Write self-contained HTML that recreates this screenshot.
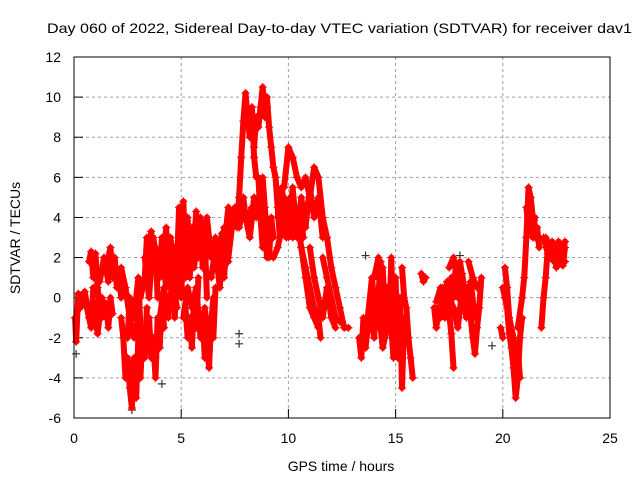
<!DOCTYPE html>
<html><head><meta charset="utf-8"><style>
body{margin:0;background:#fff}
svg{display:block;font-family:"Liberation Sans",sans-serif}
</style></head><body>
<svg id="chart" width="640" height="480" viewBox="0 0 640 480" xmlns="http://www.w3.org/2000/svg">
<rect width="640" height="480" fill="#fff"/>
<text x="47" y="33" font-size="14" textLength="585" lengthAdjust="spacingAndGlyphs">Day 060 of 2022, Sidereal Day-to-day VTEC variation (SDTVAR) for receiver dav1</text>
<text x="341" y="471" font-size="14" text-anchor="middle">GPS time / hours</text>
<text x="20" y="238" font-size="14" text-anchor="middle" transform="rotate(-90 20 238)">SDTVAR / TECUs</text>
<g id="grid"></g><g id="ticks"></g><g id="marks"></g>
<rect x="74" y="57" width="536" height="361" fill="none" stroke="#000" stroke-width="1"/>
</svg>
<script>
const xTicks=[0,5,10,15,20,25];
const yTicks=[-6,-4,-2,0,2,4,6,8,10,12];
const tracks=[
[[0.05,-1],[0.1,-2.2],[0.2,0.2],[0.4,0],[0.6,-0.5],[0.8,-1.5],[0.9,0.5]],
[[0.7,1.8],[0.8,2.3],[0.9,1],[1.0,2.2],[1.1,0.5],[1.2,-0.5],[1.3,-1],[1.5,-0.3],[1.6,-1.5],[1.7,0],[1.8,-0.8]],
[[1.5,1.5],[1.7,2.5],[1.8,1],[1.9,2],[2.0,0.5],[2.1,1.2],[2.2,0]],
[[2.2,-1],[2.3,-2],[2.4,-4],[2.5,-3],[2.6,-4.5],[2.7,-5.5],[2.8,-3],[2.9,-5],[3.0,-2],[3.1,-4],[3.2,-1.5],[3.3,-3],[3.4,-0.5]],
[[2.2,1.5],[2.4,0.5],[2.6,-1],[2.8,-2],[3.0,-1],[3.2,-2.5],[3.4,-2]],
[[3.1,0],[3.3,1],[3.4,3],[3.5,2],[3.6,3.3],[3.7,1.5],[3.8,2.5],[3.9,0]],
[[3.5,-1],[3.6,-3],[3.7,-2],[3.8,-4],[3.9,-1],[4.0,-2.5],[4.1,0],[4.2,-1.5]],
[[4.0,1],[4.1,3],[4.2,2],[4.3,3.5],[4.4,1],[4.5,2],[4.6,0],[4.7,2.5],[4.8,0.5]],
[[4.7,-1],[4.8,1.5],[4.9,4.5],[5.0,3],[5.1,4.8],[5.2,2],[5.3,4],[5.4,1],[5.5,3.5]],
[[5.2,-0.5],[5.3,-2],[5.4,-1],[5.5,-2.5],[5.6,0],[5.7,-1.5],[5.8,1]],
[[5.6,2.5],[5.7,4.3],[5.8,2],[5.9,4],[6.0,1.5],[6.1,3],[6.2,0]],
[[6.0,-1],[6.1,-3],[6.2,-2],[6.3,-3.5],[6.4,-1],[6.5,-2],[6.6,0.5]],
[[6.5,1.5],[6.6,3],[6.8,2],[6.9,3.2],[7.0,1],[7.1,2.5],[7.2,1.8]],
[[7.0,2.5],[7.2,4.5],[7.4,4],[7.6,3.5],[7.7,5],[7.8,7],[7.9,8.8],[8.0,10.2],[8.1,9],[8.2,8],[8.3,9.5],[8.4,7],[8.5,6]],
[[7.7,4.5],[7.9,5],[8.0,4],[8.2,3],[8.4,5],[8.5,4]],
[[8.4,7.5],[8.5,9],[8.6,8.5],[8.7,9.5],[8.8,10.5],[8.9,9],[9.0,10],[9.1,8.5],[9.2,7.5],[9.3,6.5],[9.4,6],[9.5,4.5],[9.6,3]],
[[8.8,6],[8.9,4.5],[9.0,3],[9.1,2],[9.2,4],[9.3,3]],
[[9.3,2],[9.5,2.5],[9.7,3.5],[9.8,5],[10.0,4.5],[10.2,3],[10.4,4],[10.6,2.5],[10.8,1.5],[11.0,0.5],[11.2,-0.5],[11.4,-1],[11.5,-2]],
[[9.8,5.5],[10.0,7.5],[10.2,7],[10.4,6],[10.6,5.5],[10.8,6],[11.0,5],[11.2,6.5],[11.4,6],[11.6,4],[11.8,3],[12.0,1.5],[12.2,0.5],[12.4,-0.5],[12.6,-1.5],[12.8,-1.5]],
[[10.6,2.5],[10.8,1],[11.0,-0.5],[11.2,-1],[11.4,-1.5]],
[[11.6,2],[11.8,1],[12.0,0],[12.2,-1],[12.4,-1.2]],
[[13.3,-2],[13.4,-3],[13.5,-1],[13.6,-2.5],[13.8,-0.5],[14.0,-2],[14.1,0],[14.2,-1]],
[[14.0,1],[14.2,2],[14.3,0],[14.4,1.5],[14.5,-1],[14.6,0.5],[14.7,-1.5],[14.8,2],[14.9,-2],[15.0,1],[15.1,-3],[15.2,0],[15.3,-4.5],[15.4,-1],[15.5,-2]],
[[15.3,1.5],[15.4,0],[15.5,-0.5],[15.6,-2],[15.7,-3],[15.8,-4]],
[[16.2,1.2],[16.3,0.8],[16.4,1]],
[[16.8,-0.5],[16.9,-1.5],[17.0,-0.5],[17.1,-1],[17.2,0.5],[17.3,-0.5],[17.4,0.8],[17.5,-0.8],[17.6,-1.8],[17.7,-3.5]],
[[17.6,1],[17.7,0],[17.8,1.5],[17.9,0],[18.0,1.8],[18.2,0.5],[18.4,-0.5],[18.5,-1],[18.6,-2],[18.7,-2.8],[18.8,-1.5],[18.9,-0.5],[19.0,1]],
[[18.4,1.8],[18.6,1],[18.8,0.5]],
[[20.0,0.5],[20.1,0],[20.2,-0.5],[20.3,-1.8],[20.4,-2.5],[20.5,-3.5],[20.6,-5],[20.7,-4],[20.8,-2],[20.9,-1]],
[[20.7,-1.5],[20.9,0],[21.0,1],[21.1,3],[21.2,5.5],[21.3,5],[21.4,4],[21.5,3],[21.6,3.5],[21.7,2.5]],
[[21.8,-1.5],[21.9,0],[22.0,1],[22.1,2.5],[22.2,2],[22.4,1.8],[22.6,2.5],[22.8,2.2],[22.9,2.8]],
[[21.9,3],[22.1,2.2],[22.3,2.8],[22.5,1.5],[22.7,2],[22.9,1.8]],
[[0.3,-0.5],[0.5,0.3],[0.7,-1],[0.9,-0.2],[1.1,-1.8],[1.3,0],[1.5,-1]],
[[1.0,1.5],[1.2,0.8],[1.4,2],[1.6,0.8]],
[[2.5,-2],[2.6,0],[2.8,-1],[3.0,1],[3.1,-1.5]],
[[3.3,2],[3.5,0],[3.7,3],[3.9,1.5],[4.1,2.5],[4.3,0.5],[4.5,3],[4.7,1]],
[[3.8,-3],[4.0,-1],[4.2,0.5],[4.4,-1],[4.6,1],[4.8,-0.5]],
[[4.9,2],[5.0,0],[5.1,3],[5.2,1],[5.4,3],[5.6,1.5],[5.8,3.5],[6.0,2.5],[6.2,4],[6.4,2]],
[[5.1,-1],[5.3,0.5],[5.5,-0.5],[5.7,0.5],[5.9,-2],[6.1,-0.5],[6.3,-2.5],[6.5,0]],
[[6.4,1],[6.6,2.5],[6.8,0.5],[7.0,3.5],[7.2,2],[7.4,3.8]],
[[7.5,4.5],[7.7,3.5],[7.9,4.5],[8.1,4],[8.3,4.5]],
[[8.6,6],[8.7,4],[8.8,2.5],[8.9,4],[9.0,2]],
[[9.5,4],[9.7,5.5],[9.9,3],[10.1,5],[10.3,3.5],[10.5,4.5],[10.7,3]],
[[10.0,3],[10.2,5.5],[10.4,3],[10.6,5],[10.8,3.5],[11.0,5.5],[11.2,4],[11.4,5],[11.6,3]],
[[11.0,2.5],[11.2,1],[11.4,0],[11.6,-1],[11.8,0.5],[12.0,-1],[12.2,-1.5]],
[[13.7,-1],[13.9,1],[14.1,-1.5],[14.3,1.8],[14.5,-2],[14.7,0],[14.9,-3],[15.1,-1]],
[[14.2,-0.5],[14.4,-2.5],[14.6,-1.5],[14.8,-0.5],[15.0,-2]],
[[16.9,-0.2],[17.1,0.5],[17.3,-1],[17.5,0],[17.7,-0.5],[17.9,-1.5],[18.1,0.3],[18.3,-1],[18.5,0]],
[[17.5,1.5],[17.7,2],[17.9,0.8],[18.1,1.2],[18.3,-0.3],[18.5,0.8],[18.7,-1]],
[[20.1,1.5],[20.2,0.5],[20.3,-1],[20.5,-2],[20.6,-3]],
[[20.6,-3.5],[20.7,-2.5],[20.8,-4]],
[[21.1,4.5],[21.2,3.5],[21.3,4.5],[21.4,3],[21.5,4]],
[[22.0,3],[22.2,2.5],[22.4,2],[22.6,2.8],[22.8,1.6],[22.9,2.5]],
[[19.9,-1.5],[20.0,-2]]
];
const blackPts=[[0.1,-2.8],[2.7,-5.6],[7.7,-1.8],[7.7,-2.3],[9.0,9.5],[13.6,2.1],[18.0,2.1],[19.5,-2.4],[4.1,-4.3]];
const NS='http://www.w3.org/2000/svg';
const x=t=>74+t*(536/25);
const y=v=>418-(v+6)*(361/18);
const grid=document.getElementById('grid'),ticks=document.getElementById('ticks'),marks=document.getElementById('marks');
function mk(tag,attrs,parent){const e=document.createElementNS(NS,tag);for(const k in attrs)e.setAttribute(k,attrs[k]);parent.appendChild(e);return e;}
xTicks.forEach(t=>{
  if(t>0&&t<25){const g=mk('line',{x1:x(t),x2:x(t),y1:57,y2:418,stroke:'#a0a0a0','stroke-dasharray':'3,3'},grid);
  
  }
  const l=mk('line',{x1:x(t),x2:x(t),y1:418,y2:409,stroke:'#000'},ticks);
  
  
  const tx=mk('text',{x:x(t),y:443,'font-size':14,'text-anchor':'middle'},ticks);tx.textContent=t;
  
  
});
yTicks.forEach(v=>{
  if(v>-6&&v<12){const g=mk('line',{x1:74,x2:610,y1:y(v),y2:y(v),stroke:'#a0a0a0','stroke-dasharray':'3,3'},grid);
  
  }
  const l=mk('line',{x1:74,x2:83,y1:y(v),y2:y(v),stroke:'#000'},ticks);
  
  
  const tx=mk('text',{x:61,y:y(v)+5,'font-size':14,'text-anchor':'end'},ticks);tx.textContent=v;
  
  
});
function plus(t,v,col,parent){
  const px=x(t),py=y(v);
  const p=mk('path',{d:`M${px-4},${py}h8M${px},${py-4}v8`,stroke:col,'stroke-width':1.2,fill:'none'},parent);
  
  
}
blackPts.forEach(p=>plus(p[0],p[1],'#333',marks));
tracks.forEach(tr=>{
  const g=mk('g',{},marks);
  
  
  const pl=mk('polyline',{points:tr.map(p=>x(p[0])+','+y(p[1])).join(' '),fill:'none',stroke:'#ff0000','stroke-width':6,'stroke-linejoin':'round','stroke-linecap':'round'},g);
  
  
  tr.forEach(p=>plus(p[0],p[1],'#ff0000',g));
});
</script>
</body></html>
